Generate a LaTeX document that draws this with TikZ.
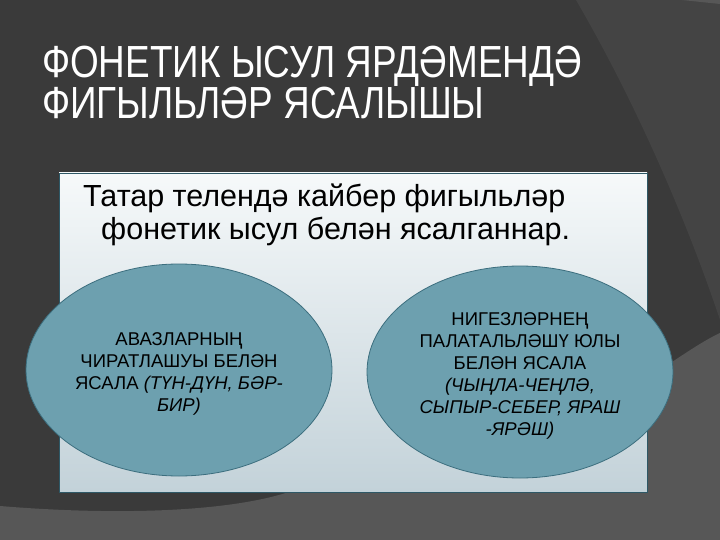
\documentclass[tikz,border=0pt]{standalone}
\usepackage{fontspec}
\setmainfont{Liberation Sans}
\newfontfamily\titlefont[FakeStretch=0.82]{Liberation Sans}
\usetikzlibrary{shapes, positioning}
\definecolor{bgdark}{HTML}{3A3A3A}
\definecolor{bgmid}{HTML}{444444}
\definecolor{bglight}{HTML}{575757}
\definecolor{ellfill}{HTML}{6DA0AF}
\definecolor{elldraw}{HTML}{3C6E7E}
\definecolor{boxdraw}{HTML}{2E5866}
\definecolor{boxtop}{HTML}{F6F9FA}
\definecolor{boxbottom}{HTML}{C3D2D9}
\tikzset{
    textnode/.style = {draw=none, fill=none, rectangle, inner sep=0em, align=center},
    titlenode/.style = {textnode, align=left, text=white, font=\titlefont\fontsize{45}{40}\selectfont},
    bodynode/.style = {textnode, align=left, font=\fontsize{30.5}{33}\selectfont},
    ellipsenode/.style = {draw=elldraw, fill=ellfill, ellipse, inner sep=0em, line width=0.8pt,
      minimum width=306pt, minimum height=212pt},
    ellipsetext/.style = {textnode, font=\fontsize{18.5}{22}\selectfont},
    boxnode/.style = {draw=boxdraw, line width=0.8pt, top color=boxtop, bottom color=boxbottom}
}

\begin{document}
\begin{tikzpicture}[x=1pt, y=-1pt]
    % background
    \fill[bgdark] (0,0) rectangle (720,540);
    \fill[bgmid] (576,0) .. controls (640,110) and (690,230) .. (720,320) -- (720,0) -- cycle;
    \fill[bglight] (0,506) .. controls (120,516) and (240,512) .. (300,488)
      -- (660,370) .. controls (690,350) and (705,340) .. (720,333) -- (720,540) -- (0,540) -- cycle;
    \fill[bglight] (682,0) -- (720,0) -- (720,4) -- cycle;
    \useasboundingbox (0,0) rectangle (720,540);

    \node [titlenode, name=Title, anchor=base west] at (42,119)
      {ФОНЕТИК ЫСУЛ ЯРДӘМЕНДӘ\\ФИГЫЛЬЛӘР ЯСАЛЫШЫ};

    \filldraw [boxnode] (59,173) rectangle (647,492);
    \node [bodynode, name=Body, anchor=base west] at (83,240)
      {Татар телендә кайбер фигыльләр\\\hspace*{18pt}фонетик ысул белән ясалганнар.};

    \node [ellipsenode, name=Left] at (179,370) {};
    \node [ellipsenode, name=Right] at (520,372) {};
    \node [ellipsetext, name=LeftText] at ([yshift=-4pt]Left.center)
      {АВАЗЛАРНЫҢ\\ЧИРАТЛАШУЫ БЕЛӘН\\ЯСАЛА \textit{(ТҮН-ДҮН, БӘР-}\\\textit{БИР)}};
    \node [ellipsetext, name=RightText] at ([yshift=-4pt]Right.center)
      {НИГЕЗЛӘРНЕҢ\\ПАЛАТАЛЬЛӘШҮ ЮЛЫ\\БЕЛӘН ЯСАЛА\\\textit{(ЧЫҢЛА-ЧЕҢЛӘ,}\\\textit{СЫПЫР-СЕБЕР, ЯРАШ}\\\textit{-ЯРӘШ)}};
\end{tikzpicture}
\end{document}
